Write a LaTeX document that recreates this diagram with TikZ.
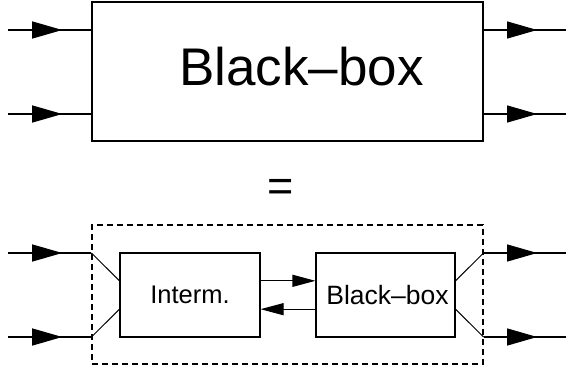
\documentclass[tikz,border=0pt]{standalone}
\usepackage{fontspec}
\setmainfont{Liberation Sans}
\usetikzlibrary{arrows.meta,calc,decorations.markings}

\tikzset{
  caixa/.style={draw, line width=1.1pt, inner sep=0pt},
  entrada/.style={line width=1.1pt, postaction={decorate},
    decoration={markings, mark=at position 0.65 with {\arrow{Triangle[length=30pt,width=17pt]}}}},
  seta/.style={line width=1.1pt, -{Triangle[length=23pt,width=12pt]}},
}

\begin{document}
\begin{tikzpicture}[x=1pt, y=-1pt]
  \useasboundingbox (0,0) rectangle (566,372);

  % caixa preta de cima
  \node[caixa, minimum width=391pt, minimum height=139pt] (bb) at (287.5,71.5) {};
  \node[anchor=base, inner sep=0pt, font=\fontsize{53}{60}\selectfont] (bbtxt) at (301.5,85) {Black--box};

  % entradas e saidas
  \coordinate (inA) at (8,30);
  \coordinate (inB) at (8,114);
  \coordinate (outA) at (566,30);
  \coordinate (outB) at (566,114);
  \draw[entrada] (inA) -- (inA -| bb.west);
  \draw[entrada] (inB) -- (inB -| bb.west);
  \draw[entrada] (bb.east |- outA) -- (outA);
  \draw[entrada] (bb.east |- outB) -- (outB);

  \node[font=\fontsize{45}{50}\selectfont] (igual) at (281,190) {=};

  % caixa tracejada com os dois blocos
  \node[caixa, dash pattern=on 6pt off 4pt, minimum width=391pt, minimum height=139pt] (frame) at (287.5,294.5) {};
  \node[caixa, minimum width=140pt, minimum height=84pt, font=\fontsize{25.5}{30}\selectfont] (inter) at (190,295) {Interm.};
  \node[caixa, minimum width=139pt, minimum height=84pt, font=\fontsize{26.5}{30}\selectfont] (bbs) at (385.5,295) {\hspace*{4pt}Black--box};

  \coordinate (inC) at (8,253);
  \coordinate (inD) at (8,337);
  \coordinate (outC) at (566,253);
  \coordinate (outD) at (566,337);
  \draw[entrada] (inC) -- (inC -| frame.west);
  \draw[entrada] (inD) -- (inD -| frame.west);
  \draw[entrada] (frame.east |- outC) -- (outC);
  \draw[entrada] (frame.east |- outD) -- (outD);

  % ligacoes inclinadas ate os blocos
  \draw[line width=1pt] (inC -| frame.west) -- ($(inter.north west)!1/3!(inter.south west)$);
  \draw[line width=1pt] (inD -| frame.west) -- ($(inter.north west)!2/3!(inter.south west)$);
  \draw[line width=1pt] (outC -| frame.east) -- ($(bbs.north east)!1/3!(bbs.south east)$);
  \draw[line width=1pt] (outD -| frame.east) -- ($(bbs.north east)!2/3!(bbs.south east)$);

  % realimentacao entre os blocos
  \draw[seta] ($(inter.north east)!1/3!(inter.south east)$) -- ($(bbs.north west)!1/3!(bbs.south west)$);
  \draw[seta] ($(bbs.north west)!2/3!(bbs.south west)$) -- ($(inter.north east)!2/3!(inter.south east)$);
\end{tikzpicture}
\end{document}
